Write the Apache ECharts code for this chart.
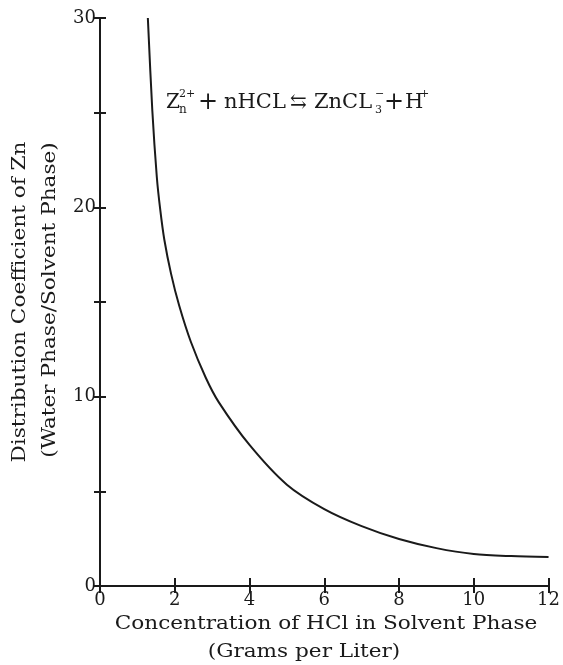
<!DOCTYPE html>
<html>
<head>
<meta charset="utf-8">
<script src="https://cdn.jsdelivr.net/npm/echarts@6/dist/echarts.min.js"></script>
<style>
  html, body { margin: 0; padding: 0; background: #fff; }
  #chart { width: 563px; height: 665px; }
</style>
</head>
<body>
<div id="chart"></div>
<script>
// values
const hclConc = [1.28, 1.40, 1.52, 1.61, 1.72, 1.90, 2.12, 2.43, 2.83, 3.18, 4, 5, 6, 7, 8, 9, 10, 11, 12]
const distCoef = [30, 25.1, 21.6, 19.9, 18.3, 16.5, 14.8, 12.9, 11.0, 9.7, 7.45, 5.35, 4.06, 3.16, 2.48, 2.0, 1.69, 1.58, 1.53]

const xTicks = [0, 2, 4, 6, 8, 10, 12]
const yLabels = [0, 10, 20, 30]

const serif = '"DejaVu Serif", "Liberation Serif", serif'
const ink = '#1a1a1a'

let myEchart = echarts.init(document.getElementById('chart'))

const txt = (text, x, y, size, extra) => ({
  type: 'text',
  x: x,
  y: y,
  style: Object.assign({
    text: text,
    font: size + 'px ' + serif,
    fill: ink,
    align: 'left',
    verticalAlign: 'middle'
  }, extra || {})
})

// the scan's lettering is set wide, so stretch the axis titles a bit
const wide = (el, rot) => Object.assign(el, { scaleX: 1.2, rotation: rot || 0 })

const lineStyle = { color: ink, width: 2 }

myEchart.setOption({
  animation: false,
  backgroundColor: '#fff',
  grid: { left: 100, right: 11, top: 18, bottom: 79 },
  xAxis: [
    {
      type: 'value', min: 0, max: 12, interval: 2, position: 'bottom',
      axisLine: { show: true, lineStyle: lineStyle },
      axisTick: { show: true, inside: true, length: 8, lineStyle: lineStyle },
      axisLabel: {
        color: ink, fontFamily: serif, fontSize: 18, margin: 5,
        formatter: v => xTicks.indexOf(v) >= 0 ? String(v) : ''
      },
      splitLine: { show: false }
    },
    {
      type: 'value', min: 0, max: 12, interval: 2, position: 'top',
      axisLine: { show: true, lineStyle: lineStyle },
      axisTick: { show: true, inside: true, length: 7, lineStyle: lineStyle },
      axisLabel: { show: false },
      splitLine: { show: false }
    }
  ],
  yAxis: [
    {
      type: 'value', min: 0, max: 30, interval: 5, position: 'left',
      axisLine: { show: true, lineStyle: lineStyle },
      axisTick: { show: true, inside: true, length: 6, lineStyle: lineStyle },
      axisLabel: {
        color: ink, fontFamily: serif, fontSize: 18, margin: 4,
        formatter: v => yLabels.indexOf(v) >= 0 ? String(v) : ''
      },
      splitLine: { show: false }
    },
    {
      type: 'value', min: 0, max: 30, interval: 5, position: 'right',
      axisLine: { show: true, lineStyle: lineStyle },
      axisTick: { show: true, inside: true, length: 6, lineStyle: lineStyle },
      axisLabel: { show: false },
      splitLine: { show: false }
    }
  ],
  series: [
    {
      type: 'line',
      xAxisIndex: 0,
      yAxisIndex: 0,
      smooth: 0.3,
      showSymbol: false,
      clip: true,
      lineStyle: { color: ink, width: 2 },
      data: hclConc.map((x, i) => [x, distCoef[i]])
    }
  ],
  graphic: [
    // reaction equation
    txt('Z', 166, 103, 20),
    txt('2+', 179, 94, 11),
    txt('n', 179, 110, 12),
    txt('+', 198, 103, 24),
    txt('nHCL', 224, 103, 21),
    txt('\u21C6', 290, 103, 20),
    txt('ZnCL', 314, 103, 21),
    txt('\u2212', 375, 94, 11),
    txt('3', 375, 110, 11),
    txt('+', 384, 103, 24),
    txt('H', 405, 103, 21),
    txt('+', 420, 94, 11),
    // axis names
    wide(txt('Concentration of HCl in Solvent Phase', 326, 624, 18, { align: 'center' })),
    wide(txt('(Grams per Liter)', 304, 652, 18, { align: 'center' })),
    wide(txt('Distribution Coefficient of Zn', 20, 302, 18, { align: 'center' }), Math.PI / 2),
    wide(txt('(Water Phase/Solvent Phase)', 50, 300, 18, { align: 'center' }), Math.PI / 2)
  ]
})
</script>
</body>
</html>
